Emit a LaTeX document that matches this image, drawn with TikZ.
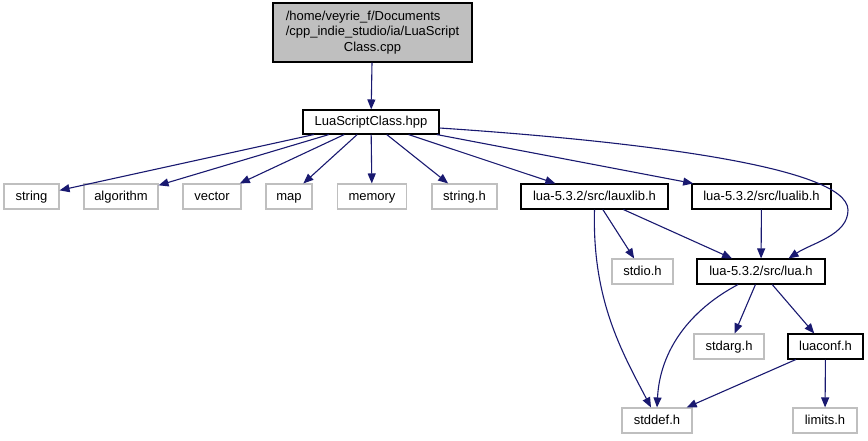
\documentclass[tikz,border=0pt]{standalone}
\usepackage{fontspec}
\setmainfont{Liberation Sans}
\usetikzlibrary{arrows.meta}
\definecolor{edgeblue}{HTML}{191970}
\definecolor{boxgray}{HTML}{BFBFBF}
\begin{document}
\begin{tikzpicture}[x=1pt,y=-1pt,>={Triangle[length=10pt,width=8pt]},line width=1.1pt,
  font=\fontsize{13}{15.5}\selectfont,
  hdr/.style={draw=black,fill=white,minimum height=25pt,inner sep=0pt,text height=9.5pt,text depth=2.5pt},
  sys/.style={draw=boxgray,fill=white,minimum height=25pt,inner sep=0pt,text height=9.5pt,text depth=2.5pt},
  edge/.style={->,draw=edgeblue}]
  \useasboundingbox (0,0) rectangle (868,440);
  % file and its headers
  \node[draw=black,fill=boxgray,minimum width=199pt,minimum height=59pt,inner sep=0pt] (src) at (372.5,32.5)
    {\begin{tabular}{@{}l@{}}/home/veyrie\_f/Documents\\/cpp\_indie\_studio/ia/LuaScript\\\multicolumn{1}{@{}c@{}}{Class.cpp}\end{tabular}};
  \node[hdr,minimum width=136pt,minimum height=24pt] (hpp) at (371,122) {LuaScriptClass.hpp};
  \node[sys,minimum width=55pt] (string) at (31.5,196.5) {string};
  \node[sys,minimum width=74pt] (algorithm) at (121,196.5) {algorithm};
  \node[sys,minimum width=58pt] (vector) at (212,196.5) {vector};
  \node[sys,minimum width=46pt] (map) at (289,196.5) {map};
  \node[sys,minimum width=69pt] (memory) at (372,196.5) {memory};
  \node[sys,minimum width=65pt] (stringh) at (464.5,196.5) {string.h};
  \node[hdr,minimum width=147pt] (lauxlib) at (594.5,196.5) {lua-5.3.2/src/lauxlib.h};
  \node[hdr,minimum width=139pt] (lualib) at (761.5,196.5) {lua-5.3.2/src/lualib.h};
  \node[sys,minimum width=61pt] (stdio) at (642.5,271.5) {stdio.h};
  \node[hdr,minimum width=128pt] (lua) at (761,271.5) {lua-5.3.2/src/lua.h};
  \node[sys,minimum width=70pt] (stdarg) at (729,346.5) {stdarg.h};
  \node[hdr,minimum width=75pt] (luaconf) at (825.5,346.5) {luaconf.h};
  \node[sys,minimum width=70pt] (stddef) at (657,420.5) {stddef.h};
  \node[sys,minimum width=64pt] (limits) at (825,420.5) {limits.h};
  % includes
  \draw[edge] (src) -- (hpp);
  \foreach \n in {string,algorithm,vector,map,memory,stringh,lauxlib,lualib}
    \draw[edge] (hpp) -- (\n);
  \draw[edge] ([yshift=-6pt]hpp.east) .. controls (620,140) and (848,165) .. (848,210)
    .. controls (848,235) and (812,243) .. ([xshift=-37pt]lua.north east);
  \draw[edge] (lauxlib.south) .. controls (592,300) and (622,352) .. ([xshift=-6pt]stddef.north);
  \draw[edge] (lauxlib) -- (stdio);
  \draw[edge] (lauxlib) -- (lua);
  \draw[edge] (lualib) -- (lua);
  \draw[edge] ([xshift=-23pt]lua.south) .. controls (690,310) and (660,350) .. (stddef.north);
  \draw[edge] (lua) -- (stdarg);
  \draw[edge] (lua) -- (luaconf);
  \draw[edge] (luaconf) -- (limits);
  \draw[edge] (luaconf) -- (stddef);
\end{tikzpicture}
\end{document}
